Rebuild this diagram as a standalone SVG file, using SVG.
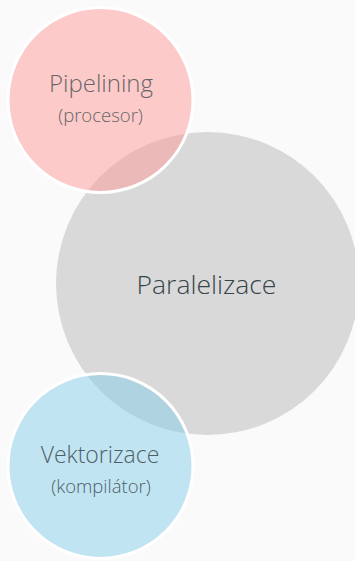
<svg xmlns="http://www.w3.org/2000/svg" width="355" height="561" viewBox="0 0 355 561">
<style>
.t{font-family:"Open Sans","Noto Sans","Liberation Sans",sans-serif;font-weight:300;text-anchor:middle}
.sat{stroke:#ffffff;stroke-width:3;fill-opacity:0.5}
</style>
<rect width="355" height="561" fill="#fafafa"/>
<g id="paralelizace">
<circle cx="207.5" cy="283.5" r="151.5" fill="#d9d9d9"/>
<text class="t" x="206.5" y="294" font-size="26.5" fill="#34454a">Paralelizace</text>
</g>
<g id="pipelining">
<circle class="sat" cx="100.5" cy="100" r="92.5" fill="#ff9999"/>
<text class="t" x="101" y="91.5" font-size="24" fill="#666666">Pipelining</text>
<text class="t" x="100.5" y="122" font-size="18.5" fill="#666666">(procesor)</text>
</g>
<g id="vektorizace">
<circle class="sat" cx="100.5" cy="466" r="92.5" fill="#87ceeb"/>
<text class="t" x="100" y="462.5" font-size="23" fill="#4f5f66">Vektorizace</text>
<text class="t" x="101" y="493" font-size="18.5" fill="#4f5f66">(kompilátor)</text>
</g>
<g id="connectors"/>
</svg>
